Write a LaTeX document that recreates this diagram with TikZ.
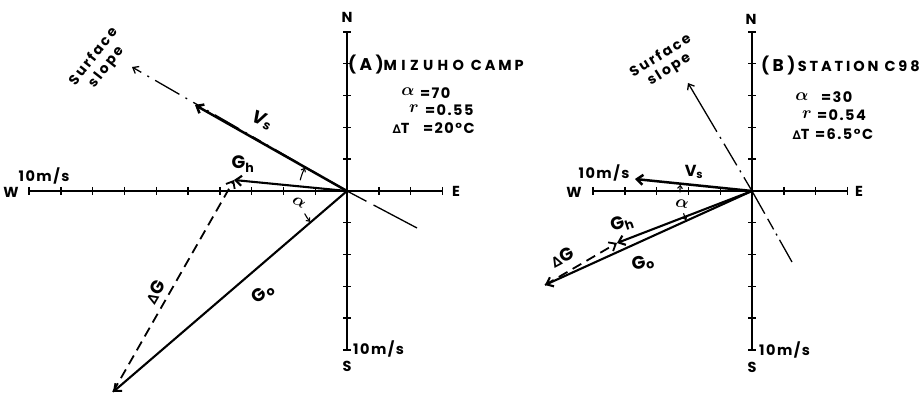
\documentclass[tikz,border=0pt]{standalone}
\usepackage{fontspec}
\usepackage{amsmath}
\setmainfont{Poppins}[LetterSpace=10]
\newfontfamily\titlef{Poppins}[LetterSpace=20]
\newfontfamily\widef{Poppins}[LetterSpace=30]
\newfontfamily\slopef{Poppins}[LetterSpace=16]
\newfontfamily\symf{DejaVu Sans}
\usetikzlibrary{arrows.meta}
\newcommand{\dT}{{\symf\bfseries\fontsize{12}{12}\selectfont ∆}T}
\newcommand{\dG}{{\symf\bfseries\fontsize{14}{14}\selectfont ∆}G}
\newcommand{\alp}{{\fontsize{19}{19}\selectfont$\boldsymbol{\alpha}$}}
\newcommand{\rr}{{\fontsize{19}{19}\selectfont$\boldsymbol{r}$}}
\newcommand{\pfx}[1]{{\fontsize{17}{17}\selectfont(#1)}}
\begin{document}
\begin{tikzpicture}[x=1pt,y=-1pt,
  axis/.style={line width=1.6pt},
  tickmark/.style={line width=1.4pt},
  vec/.style={line width=2.1pt,-{Straight Barb[length=6pt,width=10pt]}},
  dvec/.style={line width=1.8pt,dash pattern=on 10pt off 6pt,-{Straight Barb[length=6pt,width=10pt]}},
  slopeln/.style={line width=1.3pt},
  arcarr/.style={line width=1.1pt,-{Straight Barb[length=3pt,width=5pt]}},
  lbl/.style={font=\bfseries\fontsize{14.5}{14.5}\selectfont,inner sep=0pt},
  vlbl/.style={font=\bfseries\fontsize{18}{18}\selectfont,inner sep=0pt},
  slbl/.style={font=\slopef\bfseries\fontsize{14}{16}\selectfont,inner sep=0pt,align=center},
  ttl/.style={font=\titlef\bfseries\fontsize{14.5}{14.5}\selectfont,inner sep=0pt,anchor=west}]
\useasboundingbox (0,0) rectangle (922,398);
\fill[white] (0,0) rectangle (922,398);

% ================= Panel A =================
\coordinate (OA) at (347,191);
\coordinate (AW) at (29,191);
\coordinate (AE) at (442,191);
\coordinate (AN) at (347,32);
\coordinate (AS) at (347,350);
\draw[axis] (AW) -- (AE);
\draw[axis] (AN) -- (AS);
\foreach \i in {-10,...,-1,1,2,3} \draw[tickmark] ({347+(\i)*31.8},187) -- ++(0,8);
\foreach \i in {-5,...,-1,1,2,3,4,5} \draw[tickmark] (343,{191+(\i)*31.8}) -- ++(8,0);
\node[lbl] (AlN) at (347,17) {N};
\node[lbl] (AlW) at (11,192) {W};
\node[lbl] (AlE) at (456,191) {E};
\node[lbl] (AlS) at (347,366) {S};
\node[lbl] (Al10w) at (44,176) {10m/s};
\node[lbl,anchor=west] (Al10s) at (353,349) {10m/s};

\coordinate (AVs) at (195,105);
\coordinate (ASl) at (132,67);
\coordinate (ASE) at (417,228);
\coordinate (AGh) at (234,180);
\coordinate (AGo) at (113,392);
\draw[slopeln,dash pattern=on 9pt off 7pt on 2pt off 7pt on 28pt off 7pt on 2pt off 7pt,{Straight Barb[length=5pt,width=8pt]}-] (ASl) -- (OA);
\draw[slopeln,dash pattern=on 22pt off 8pt on 60pt] (OA) -- (ASE);
\draw[vec,line width=2.5pt] (OA) -- (AVs);
\draw[vec] (OA) -- (AGh);
\draw[vec] (OA) -- (AGo);
\draw[dvec] (AGo) -- (AGh);
\draw[arcarr] ([shift={(-167:48)}]OA) arc[start angle=-167,end angle=-151,radius=48];
\draw[arcarr] ([shift={(-208:48)}]OA) arc[start angle=-208,end angle=-220,radius=48];

\node[vlbl,rotate=-20] (AlVs) at (262,120) {\itshape V\textsubscript{s}};
\node[vlbl] (AlGh) at (243,164) {G\textsubscript{h}};
\node[vlbl,rotate=40] (AlGo) at (263,293) {G\textsubscript{o}};
\node[vlbl,rotate=60] (AldG) at (155,292) {\dG};
\node[slbl,rotate=52] (AlSl) at (100,62) {Surface\\slope};
\node[inner sep=0pt,rotate=-30] (Alal) at (299,202) {\alp};

\node[ttl] (AlT) at (348,65) {\pfx{A}{\widef MIZUHO}\hspace{7pt}CAMP};
\node[inner sep=0pt] (Ala) at (408,92) {\alp};
\node[lbl,anchor=west] (Alav) at (420,93) {=70};
\node[inner sep=0pt] (Alr) at (414,109) {\rr};
\node[lbl,anchor=west] (Alrv) at (425,110) {=0.55};
\node[lbl] (AldT) at (401,128) {\dT};
\node[lbl,anchor=west] (AldTv) at (423,128) {=20°C};

% ================= Panel B =================
\coordinate (OB) at (752,191);
\coordinate (BW) at (593,191);
\coordinate (BE) at (847,191);
\coordinate (BN) at (752,32);
\coordinate (BS) at (752,350);
\draw[axis] (BW) -- (BE);
\draw[axis] (BN) -- (BS);
\foreach \i in {-5,...,-1,1,2,3} \draw[tickmark] ({752+(\i)*31.8},187) -- ++(0,8);
\foreach \i in {-5,...,-1,1,2,3,4,5} \draw[tickmark] (748,{191+(\i)*31.8}) -- ++(8,0);
\node[lbl] (BlN) at (751,19) {N};
\node[lbl] (BlW) at (574,192) {W};
\node[lbl] (BlE) at (859,191) {E};
\node[lbl] (BlS) at (752,367) {S};
\node[lbl] (Bl10w) at (604,173) {10m/s};
\node[lbl,anchor=west] (Bl10s) at (759,350) {10m/s};

\coordinate (BVs) at (635,179);
\coordinate (BSl) at (688,83);
\coordinate (BSE) at (792,262);
\coordinate (BGh) at (617,243);
\coordinate (BGo) at (545,285);
\draw[slopeln,dash pattern=on 55pt off 6pt on 2pt off 6pt on 25pt off 6pt on 2pt off 6pt on 40pt,{Straight Barb[length=5pt,width=8pt]}-] (BSl) -- (OB);
\draw[slopeln,dash pattern=on 26pt off 6pt on 12pt off 5pt on 2pt off 5pt on 40pt] (OB) -- (BSE);
\draw[vec,line width=2.5pt] (OB) -- (BVs);
\draw[vec] (OB) -- (BGh);
\draw[vec] (OB) -- (BGo);
\draw[dvec] (BGo) -- (BGh);
\draw[arcarr] ([shift={(-181:72)}]OB) arc[start angle=-181,end angle=-175,radius=72];
\draw[arcarr] ([shift={(-198:72)}]OB) arc[start angle=-198,end angle=-204,radius=72];

\node[vlbl,font=\bfseries\fontsize{16}{16}\selectfont] (BlVs) at (694,172) {V\textsubscript{s}};
\node[vlbl,rotate=18] (BlGh) at (622,224) {G\textsubscript{h}};
\node[vlbl,rotate=12] (BlGo) at (643,263) {G\textsubscript{o}};
\node[vlbl,rotate=28] (BldG) at (562,257) {\dG};
\node[slbl,rotate=32] (BlSl) at (665,63) {Surface\\slope};
\node[inner sep=0pt,rotate=-10] (Blal) at (682,204) {\alp};

\node[ttl] (BlT) at (761,66) {\pfx{B}\,STATION C98};
\node[inner sep=0pt] (Bla) at (802,97) {\alp};
\node[lbl,anchor=west] (Blav) at (821,97) {=30};
\node[inner sep=0pt] (Blr) at (807,115) {\rr};
\node[lbl,anchor=west] (Blrv) at (817,115) {=0.54};
\node[lbl] (BldT) at (801,134) {\dT};
\node[lbl,anchor=west] (BldTv) at (815,134) {=6.5°C};
\end{tikzpicture}
\end{document}
